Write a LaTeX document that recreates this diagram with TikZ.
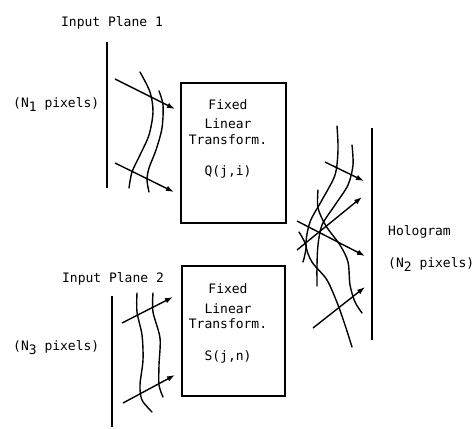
\documentclass[tikz,border=0pt]{standalone}
\usepackage{fontspec}
\setmonofont{DejaVu Sans Mono}
\usetikzlibrary{arrows.meta}
\newcommand{\lowsub}[1]{\raisebox{-4.5bp}{#1}}

\begin{document}
\begin{tikzpicture}[x=1bp, y=-1bp,
  every node/.style={inner sep=0pt, font=\ttfamily\fontsize{13bp}{15bp}\selectfont},
  plane/.style={line width=1.8bp},
  holo/.style={line width=2.6bp},
  wave/.style={line width=1.4bp, line cap=round},
  ray/.style={line width=1.4bp, -{Latex[length=8bp,width=5.5bp]}},
  xform/.style={draw, line width=1.5bp, minimum width=105bp, minimum height=140bp},
  lbl/.style={anchor=base},
]
\useasboundingbox (0,0) rectangle (476,428);

% ---- input plane 1 ----
\coordinate (p1t) at (107,42);
\coordinate (p1b) at (107,188);
\draw[plane] (p1t) -- (p1b);
\node[lbl] (in1) at (112,26) {Input Plane 1};
\node[lbl, anchor=base west] (n1) at (13,107) {(N\lowsub{1} pixels)};

% ---- transform box 1 ----
\node[xform] (Q) at (233.5,153) {};
\node[lbl] (q1) at (228,109) {Fixed};
\node[lbl] (q2) at (228,128) {Linear};
\node[lbl] (q3) at (228,144) {Transform.};
\node[lbl] (q4) at (228,175) {Q(j,i)};

% rays and wavefronts from plane 1
\coordinate (a1s) at (115,79);  \coordinate (a1e) at (175,109);
\coordinate (a2s) at (115,163); \coordinate (a2e) at (174,192);
\draw[ray] (a1s) -- (a1e);
\draw[ray] (a2s) -- (a2e);
\draw[wave] plot[smooth] coordinates {(140,72) (150,92) (153,112) (149,135) (140,155) (132,172) (129,188)};
\draw[wave] plot[smooth] coordinates {(159,91) (163,105) (162,128) (156,150) (149,168) (147,180) (149,192)};

% ---- input plane 2 ----
\coordinate (p2t) at (112,296);
\coordinate (p2b) at (112,427);
\draw[plane] (p2t) -- (p2b);
\node[lbl] (in2) at (113,282) {Input Plane 2};
\node[lbl, anchor=base west] (n3) at (13,350) {(N\lowsub{3} pixels)};

% ---- transform box 2 ----
\node[xform, minimum height=130bp, minimum width=103bp] (S) at (233.5,331) {};
\node[lbl] (s1) at (228,293) {Fixed};
\node[lbl] (s2) at (228,313) {Linear};
\node[lbl] (s3) at (228,328) {Transform.};
\node[lbl] (s4) at (228,360) {S(j,n)};

% rays and wavefronts from plane 2
\coordinate (b1s) at (122,323); \coordinate (b1e) at (173,297);
\coordinate (b2s) at (123,403); \coordinate (b2e) at (175,375);
\draw[ray] (b1s) -- (b1e);
\draw[ray] (b2s) -- (b2e);
\draw[wave] plot[smooth] coordinates {(137,293) (137,312) (142,335) (143,360) (140,385) (142,400) (152,412)};
\draw[wave] plot[smooth] coordinates {(153,293) (153,312) (160,338) (159,365) (159,385) (163,397)};

% ---- hologram ----
\coordinate (ht) at (372,128);
\coordinate (hb) at (372,340);
\draw[holo] (ht) -- (hb);
\node[lbl, anchor=base west] (holo) at (388,235) {Hologram};
\node[lbl, anchor=base west] (n2) at (388,267) {(N\lowsub{2} pixels)};

% interfering wavefronts in front of the hologram
\draw[wave] plot[smooth] coordinates {(337,126) (338,150) (335,175) (322,200) (310,222) (306,245) (312,262) (327,280) (338,305) (346,328) (352,347)};
\draw[wave] plot[smooth] coordinates {(352,145) (353,165) (348,185) (335,205) (322,225) (318,245) (317,265) (317,286)};
\draw[wave] plot[smooth] coordinates {(318,190) (318,208) (326,226) (340,245) (348,262) (350,285) (355,302) (362,313)};
\draw[wave] plot[smooth] coordinates {(299,232) (306,246) (303,262)};

\coordinate (hAs) at (325,162); \coordinate (hAe) at (364,181);
\coordinate (hBs) at (297,250); \coordinate (hBe) at (362,197);
\coordinate (hCs) at (297,221); \coordinate (hCe) at (365,256);
\coordinate (hDs) at (313,328); \coordinate (hDe) at (365,287);
\draw[ray] (hAs) -- (hAe);
\draw[ray] (hBs) -- (hBe);
\draw[ray] (hCs) -- (hCe);
\draw[ray] (hDs) -- (hDe);
\end{tikzpicture}
\end{document}
